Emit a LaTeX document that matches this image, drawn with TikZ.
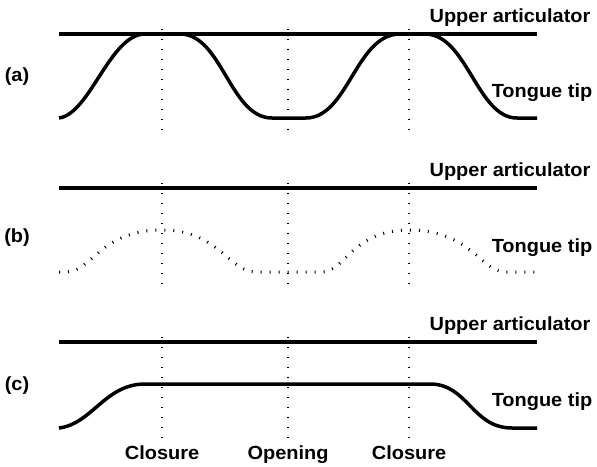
\documentclass[tikz,border=0pt]{standalone}
\usepackage{fontspec}
\newfontfamily\lblfont[FakeStretch=1.05]{Liberation Sans}
\usepackage{tikz}

\begin{document}
\begin{tikzpicture}[x=1pt,y=-1pt,
                    lbl/.style={font=\lblfont\bfseries\fontsize{19}{22}\selectfont,inner sep=0pt,anchor=base},
                    artic/.style={line width=3.5pt},
                    tip/.style={line width=3.5pt},
                    dottip/.style={line width=3pt,dash pattern=on 1pt off 8pt},
                    timeline/.style={line width=2pt,dash pattern=on 1pt off 9pt}]
  \useasboundingbox (0,0) rectangle (597,466);

  % panel labels
  \node[lbl] (pa) at (17,81) {(a)};
  \node[lbl] (pb) at (17,242) {(b)};
  \node[lbl] (pc) at (17,390) {(c)};

  % right-hand labels
  \node[lbl] (ua) at (510,22) {Upper articulator};
  \node[lbl] (ta) at (542,97) {Tongue tip};
  \node[lbl] (ub) at (510,176) {Upper articulator};
  \node[lbl] (tb) at (542,252) {Tongue tip};
  \node[lbl] (uc) at (510,330) {Upper articulator};
  \node[lbl] (tc) at (542,406) {Tongue tip};

  % event labels
  \node[lbl] (cl1) at (162,459) {Closure};
  \node[lbl] (op) at (288,459) {Opening};
  \node[lbl] (cl2) at (409,459) {Closure};

  % time marks
  \foreach \x in {162,288,409} {
    \draw[timeline] (\x,29) -- (\x,136);
    \draw[timeline] (\x,183) -- (\x,290);
    \draw[timeline] (\x,337) -- (\x,443);
  }

  % (a)
  \draw[artic] (59,34) -- (537,34);
  \draw[tip] (59,118) .. controls (90,114) and (110,34) .. (145,34)
    -- (180,34) .. controls (222,34) and (230,118) .. (272,118)
    -- (306,118) .. controls (348,118) and (356,34) .. (400,34)
    -- (425,34) .. controls (467,34) and (477,118) .. (517,118)
    -- (537,118);

  % (b)
  \draw[artic] (59,188) -- (537,188);
  \draw[dottip] (59,272) -- (66,272) .. controls (92,272) and (100,230) .. (162,230)
    .. controls (218,230) and (230,272) .. (255,272)
    -- (322,272) .. controls (345,272) and (352,230) .. (409,230)
    .. controls (470,230) and (482,272) .. (505,272)
    -- (537,272);

  % (c)
  \draw[artic] (59,342) -- (537,342);
  \draw[tip] (59,428) .. controls (92,424) and (105,384) .. (145,384)
    -- (430,384) .. controls (468,384) and (472,428) .. (512,428)
    -- (537,428);
\end{tikzpicture}
\end{document}
